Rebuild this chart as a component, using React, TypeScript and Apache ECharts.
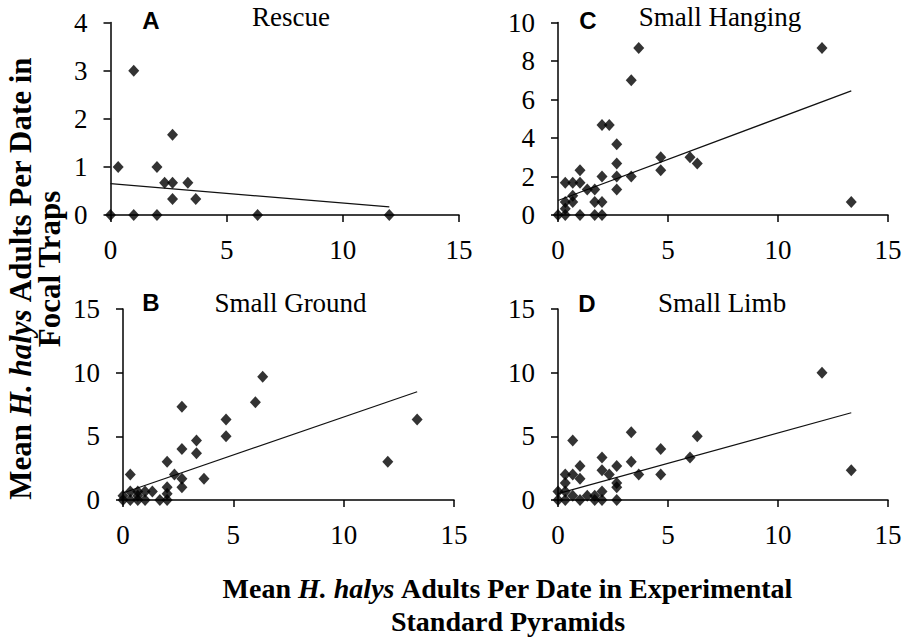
import React, { useEffect, useRef } from "react";
import * as echarts from "echarts";

// ---- data ----
const panelLetters = ["A", "C", "B", "D"];
const panelTitles = ["Rescue", "Small Hanging", "Small Ground", "Small Limb"];

const rescuePoints = [
  [0, 0], [0.33, 1], [1, 3], [1, 0], [2, 1], [2, 0], [2.33, 0.67], [2.67, 0.67],
  [2.67, 1.67], [2.67, 0.33], [3.33, 0.67], [3.67, 0.33], [6.33, 0], [12, 0],
];
const rescueTrend = [[0, 0.65], [12, 0.17]];

const hangingPoints = [
  [3.67, 8.67], [12, 8.67], [3.33, 7], [2, 4.67], [2.33, 4.67], [2.67, 3.67], [2.67, 2.67],
  [2.67, 2], [2.67, 1.33], [3.33, 2], [4.67, 3], [4.67, 2.33], [6, 3], [6.33, 2.67],
  [13.33, 0.67], [1, 2.33], [0.33, 1.67], [0.67, 1.67], [1, 1.67], [1.33, 1.33], [1.67, 1.33],
  [2, 2], [0.67, 1], [0.33, 0.67], [0.67, 0.67], [1.67, 0.67], [2, 0.67], [0.33, 0.33],
  [0, 0], [0.33, 0], [1, 0], [1.67, 0], [2, 0],
];
const hangingTrend = [[0, 0.75], [13.33, 6.45]];

const groundPoints = [
  [6.33, 9.67], [2.67, 7.33], [6, 7.67], [4.67, 6.33], [4.67, 5], [13.33, 6.33], [12, 3],
  [3.33, 4.67], [2.67, 4], [3.33, 3.67], [2, 3], [2.33, 2], [2.67, 1.67], [2.67, 1],
  [3.67, 1.67], [0.33, 2], [2, 1], [2, 0.5], [1.33, 0.67], [1.67, 0], [2, 0], [0.33, 0.67],
  [0.67, 0.67], [1, 0.67], [0, 0.33], [0, 0], [0.33, 0], [0.67, 0], [1, 0], [0.67, 0.33],
];
const groundTrend = [[0, 0.55], [13.33, 8.5]];

const limbPoints = [
  [12, 10], [13.33, 2.33], [3.33, 5.33], [6.33, 5], [0.67, 4.67], [4.67, 4], [6, 3.33],
  [3.33, 3], [4.67, 2], [3.67, 2], [2, 3.33], [2, 2.33], [2.33, 2], [2.67, 2.67], [2.67, 1.33],
  [2.67, 1], [1, 2.67], [1, 1.67], [0.33, 2], [0.67, 2], [0.33, 1.33], [0, 0.67], [0.33, 0.67],
  [0.67, 0.33], [1.33, 0.33], [1.67, 0.33], [2, 0.67], [0, 0], [0.33, 0], [1, 0], [1.67, 0],
  [2, 0], [2.67, 0],
];
const limbTrend = [[0, 0.5], [13.33, 6.85]];

const xMax = 15;
const xInterval = 5;
const yMaxes = [4, 10, 15, 15];
const yIntervals = [1, 2, 5, 5];

const allPoints = [rescuePoints, hangingPoints, groundPoints, limbPoints];
const allTrends = [rescueTrend, hangingTrend, groundTrend, limbTrend];

// ---- layout ----
const grids = [
  { left: 110.5, top: 22.5, width: 348.5, height: 192.5 },
  { left: 558, top: 22.5, width: 330, height: 192.5 },
  { left: 123, top: 309, width: 331, height: 191 },
  { left: 558, top: 309, width: 330, height: 191 },
];
const titlePos = [
  [291, 17],
  [720, 17],
  [290.5, 303],
  [722, 303],
];
const letterPos = [
  [151, 20],
  [588, 20],
  [151, 302.5],
  [587, 303],
];

const SERIF = "Liberation Serif";
const SANS = "Liberation Sans";

export default function App() {
  const ref = useRef<HTMLDivElement>(null);

  useEffect(() => {
    if (!ref.current) return;
    const chart = echarts.init(ref.current, null, { renderer: "svg" });

    const axisCommon = {
      axisLine: { show: true, onZero: false, lineStyle: { color: "#000", width: 1.5 } },
      axisTick: { show: true, inside: false, length: 7, lineStyle: { color: "#000", width: 1.5 } },
      splitLine: { show: false },
      axisLabel: { color: "#000", fontFamily: SERIF, fontSize: 27 },
    };

    const xAxis = grids.map((_, i) => ({
      type: "value",
      gridIndex: i,
      min: 0,
      max: xMax,
      interval: xInterval,
      ...axisCommon,
      axisLabel: { ...axisCommon.axisLabel, margin: 21 },
    }));
    const yAxis = grids.map((_, i) => ({
      type: "value",
      gridIndex: i,
      min: 0,
      max: yMaxes[i],
      interval: yIntervals[i],
      ...axisCommon,
      axisLabel: { ...axisCommon.axisLabel, margin: 23 },
    }));

    const series: any[] = [];
    allTrends.forEach((t, i) => {
      series.push({
        type: "line",
        xAxisIndex: i,
        yAxisIndex: i,
        data: t,
        symbol: "none",
        lineStyle: { color: "#111", width: 1.2 },
        z: 1,
      });
    });
    allPoints.forEach((p, i) => {
      series.push({
        type: "scatter",
        xAxisIndex: i,
        yAxisIndex: i,
        data: p,
        symbol: "diamond",
        symbolSize: [11, 12],
        itemStyle: { color: "#000" },
        z: 3,
      });
    });

    const graphic: any[] = [];
    panelTitles.forEach((t, i) => {
      graphic.push({
        type: "text",
        x: titlePos[i][0],
        y: titlePos[i][1],
        style: {
          text: t,
          fontFamily: SERIF,
          fontSize: 27,
          fill: "#000",
          align: "center",
          verticalAlign: "middle",
        },
      });
      graphic.push({
        type: "text",
        x: letterPos[i][0],
        y: letterPos[i][1],
        style: {
          text: panelLetters[i],
          fontFamily: SANS,
          fontWeight: "bold",
          fontSize: 24,
          fill: "#000",
          align: "center",
          verticalAlign: "middle",
        },
      });
    });

    const richY = {
      b: { fontFamily: SERIF, fontWeight: "bold", fontSize: 31, fill: "#000", color: "#000" },
      i: { fontFamily: SERIF, fontWeight: "bold", fontStyle: "italic", fontSize: 31, fill: "#000", color: "#000" },
    };
    const richX = {
      b: { fontFamily: SERIF, fontWeight: "bold", fontSize: 28, fill: "#000", color: "#000" },
      i: { fontFamily: SERIF, fontWeight: "bold", fontStyle: "italic", fontSize: 28, fill: "#000", color: "#000" },
    };

    graphic.push({
      type: "text",
      x: 20,
      y: 278,
      rotation: Math.PI / 2,
      style: {
        text: "{b|Mean }{i|H. halys}{b| Adults Per Date in}",
        rich: richY,
        align: "center",
        verticalAlign: "middle",
      },
    });
    graphic.push({
      type: "text",
      x: 49,
      y: 269,
      rotation: Math.PI / 2,
      style: {
        text: "{b|Focal Traps}",
        rich: richY,
        align: "center",
        verticalAlign: "middle",
      },
    });
    graphic.push({
      type: "text",
      x: 508,
      y: 588,
      style: {
        text: "{b|Mean }{i|H. halys}{b| Adults Per Date in Experimental}",
        rich: richX,
        align: "center",
        verticalAlign: "middle",
      },
    });
    graphic.push({
      type: "text",
      x: 508,
      y: 621,
      style: {
        text: "{b|Standard Pyramids}",
        rich: richX,
        align: "center",
        verticalAlign: "middle",
      },
    });

    chart.setOption({
      animation: false,
      backgroundColor: "#fff",
      grid: grids.map((g) => ({ ...g, containLabel: false, outerBoundsMode: "none" })),
      xAxis,
      yAxis,
      series,
      graphic,
    });

    return () => chart.dispose();
  }, []);

  return (
    <div
      ref={ref}
      style={{ position: "fixed", left: 0, top: 0, width: 905, height: 642, background: "#fff" }}
    />
  );
}
